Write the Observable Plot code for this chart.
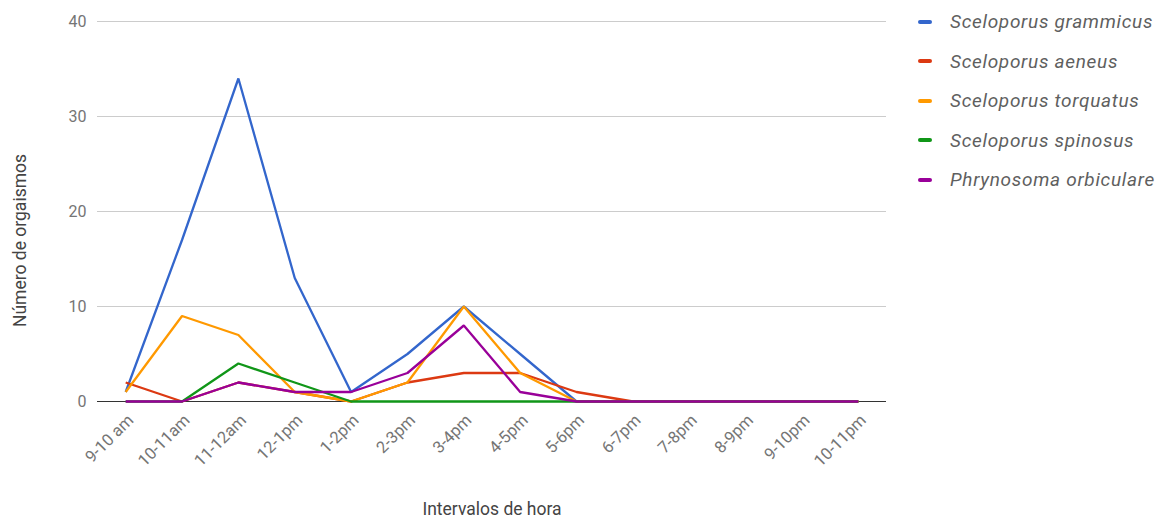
<!DOCTYPE html>
<html>
<head>
<meta charset="utf-8">
<script src="https://cdn.jsdelivr.net/npm/d3@7"></script>
<script src="https://cdn.jsdelivr.net/npm/@observablehq/plot@0.6"></script>
<style>
  html, body { margin: 0; padding: 0; background: #fff; }
  #chart { position: relative; width: 1166px; height: 517px; font-family: Roboto, "Noto Sans", sans-serif; }
  #legend { position: absolute; left: 918px; top: 2px; }
  .item { display: flex; align-items: center; height: 39.5px; }
  .sw { width: 14px; height: 4px; border-radius: 2px; margin-right: 18px; }
  .lab { font-style: italic; font-size: 19px; letter-spacing: 0.7px; color: #5f5f5f; white-space: nowrap; }
</style>
</head>
<body>
<div id="chart"><div id="legend"></div></div>
<script>
// Hour intervals on the x axis
const horas = ["9-10 am", "10-11am", "11-12am", "12-1pm", "1-2pm", "2-3pm", "3-4pm",
  "4-5pm", "5-6pm", "6-7pm", "7-8pm", "8-9pm", "9-10pm", "10-11pm"];

// Species, in drawing order
const especies = ["Sceloporus grammicus", "Sceloporus aeneus", "Sceloporus torquatus",
  "Sceloporus spinosus", "Phrynosoma orbiculare"];
const colores = ["#3366cc", "#dc3912", "#ff9900", "#109618", "#990099"];

// Number of organisms per interval
const grammicus   = [1, 17, 34, 13, 1, 5, 10, 5, 0, 0, 0, 0, 0, 0];
const aeneus      = [2, 0, 2, 1, 0, 2, 3, 3, 1, 0, 0, 0, 0, 0];
const torquatus   = [1, 9, 7, 1, 0, 2, 10, 3, 0, 0, 0, 0, 0, 0];
const spinosus    = [0, 0, 4, 2, 0, 0, 0, 0, 0, 0, 0, 0, 0, 0];
const orbiculare  = [0, 0, 2, 1, 1, 3, 8, 1, 0, 0, 0, 0, 0, 0];

const yTicks = [0, 10, 20, 30, 40];

const series = [grammicus, aeneus, torquatus, spinosus, orbiculare];
const rows = series.flatMap((vals, i) =>
  vals.map((v, j) => ({especie: especies[i], hora: horas[j], n: v})));

const plot = Plot.plot({
  width: 1166,
  height: 517,
  marginLeft: 97,
  marginRight: 280,
  marginTop: 21,
  marginBottom: 116,
  style: {fontFamily: "Roboto, 'Noto Sans', sans-serif", fontSize: "16px", background: "transparent"},
  x: {type: "point", domain: horas, padding: 0.5, round: false},
  y: {domain: [0, 40]},
  color: {domain: especies, range: colores},
  marks: [
    Plot.gridY(yTicks.filter(d => d !== 0), {stroke: "#cccccc", strokeOpacity: 1}),
    Plot.ruleY([0], {stroke: "#333333", strokeWidth: 1.2}),
    Plot.axisY(yTicks, {
      tickSize: 0, tickPadding: 11, fill: "#757575", fontSize: 16, label: null
    }),
    Plot.axisX({
      tickSize: 0, tickRotate: -45, tickPadding: 6, dx: 5, dy: 10,
      fill: "#757575", fontSize: 16.5, label: null
    }),
    // Axis titles
    Plot.text(["Intervalos de hora"], {
      frameAnchor: "bottom", dy: 113, fill: "#444", fontSize: 17.5
    }),
    Plot.text(["Número de orgaismos"], {
      frameAnchor: "left", dx: -77, dy: 29, rotate: -90, textAnchor: "middle", fill: "#444", fontSize: 17.5
    }),
    Plot.line(rows, {x: "hora", y: "n", z: "especie", stroke: "especie", strokeWidth: 2.3,
      strokeLinejoin: "miter", strokeLinecap: "butt"})
  ]
});
document.getElementById("chart").appendChild(plot);

// Legend at the right
const legend = d3.select("#legend");
especies.forEach((e, i) => {
  const it = legend.append("div").attr("class", "item");
  it.append("div").attr("class", "sw").style("background", colores[i]);
  it.append("div").attr("class", "lab").text(e);
});
</script>
</body>
</html>
